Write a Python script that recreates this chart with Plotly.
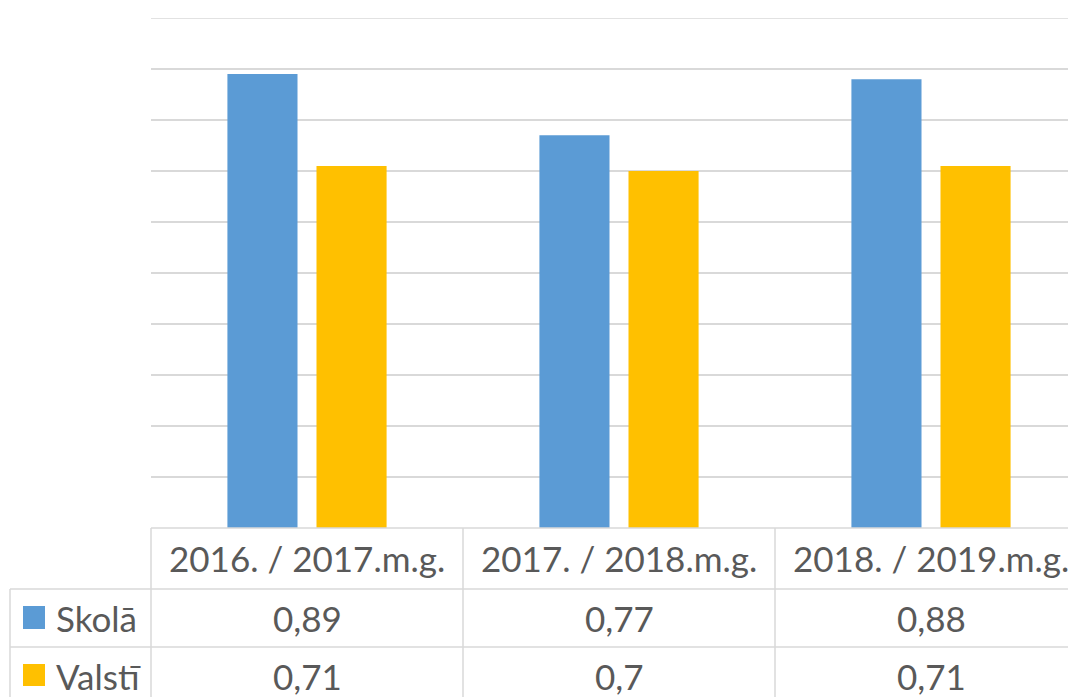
import plotly.graph_objects as go

categories = ["2016. / 2017.m.g.", "2017. / 2018.m.g.", "2018. / 2019.m.g."]
series_names = ["Skolā", "Valstī"]
skola = [0.89, 0.77, 0.88]
valsti = [0.71, 0.70, 0.71]
colors = ["#5B9BD5", "#FFC000"]

OFF = 8  # page body margin
W, H = 1076, 697 - OFF
L, R, T = 151 - OFF, 0, 18 - OFF
B = H - (528 - OFF)
plot_w = W - L - R
plot_h = H - T - B
cat_px = 312.0
xr = [-0.5, -0.5 + plot_w / cat_px]

def xp(v):
    return (v - xr[0]) / (xr[1] - xr[0])

def px_x(p):
    return (p - OFF - L) / plot_w

def px_y(p):
    return (H - B - (p - OFF)) / plot_h

def fmt(v):
    s = ("%.2f" % v).rstrip("0").rstrip(".")
    return s.replace(".", ",")

fig = go.Figure()
for name, vals, c in zip(series_names, [skola, valsti], colors):
    fig.add_trace(go.Bar(x=list(range(len(categories))), y=vals, name=name,
                         marker=dict(color=c, line=dict(width=0))))

line_c = "#D9D9D9"
lw = 1.5
shapes = []
shapes.append(dict(type="line", xref="paper", yref="y", x0=0, x1=1, y0=1, y1=1,
                   line=dict(color=line_c, width=lw), layer="below"))
shapes.append(dict(type="line", xref="paper", yref="paper", x0=0, x1=1, y0=px_y(528), y1=px_y(528),
                   line=dict(color=line_c, width=lw)))
for yy in [589, 647]:
    shapes.append(dict(type="line", xref="paper", yref="paper", x0=px_x(10), x1=1, y0=px_y(yy), y1=px_y(yy),
                       line=dict(color=line_c, width=lw)))
for i in range(len(categories)):
    xb = xp(i - 0.5)
    shapes.append(dict(type="line", xref="paper", yref="paper", x0=xb, x1=xb, y0=px_y(528), y1=px_y(710),
                       line=dict(color=line_c, width=lw)))
shapes.append(dict(type="line", xref="paper", yref="paper", x0=px_x(10), x1=px_x(10), y0=px_y(589), y1=px_y(710),
                   line=dict(color=line_c, width=lw)))
for (y0, y1), c in zip([(606, 629), (664, 686)], colors):
    shapes.append(dict(type="rect", xref="paper", yref="paper", x0=px_x(23), x1=px_x(45),
                       y0=px_y(y1), y1=px_y(y0), fillcolor=c, line=dict(width=0)))

font = dict(family="Lato, Open Sans, sans-serif", size=35, color="#595959")
ann = []
for i, cat in enumerate(categories):
    ann.append(dict(x=xp(i), y=px_y(558), xref="paper", yref="paper", text=cat, showarrow=False,
                    xanchor="center", yanchor="middle", font=font))
    ann.append(dict(x=xp(i), y=px_y(618), xref="paper", yref="paper", text=fmt(skola[i]), showarrow=False,
                    xanchor="center", yanchor="middle", font=font))
    ann.append(dict(x=xp(i), y=px_y(676), xref="paper", yref="paper", text=fmt(valsti[i]), showarrow=False,
                    xanchor="center", yanchor="middle", font=font))
for name, yc in zip(series_names, [618, 676]):
    ann.append(dict(x=px_x(54), y=px_y(yc), xref="paper", yref="paper", text=name, showarrow=False,
                    xanchor="left", yanchor="middle", font=font))

fig.update_layout(
    width=W, height=H,
    margin=dict(l=L, r=R, t=T, b=B, pad=0),
    paper_bgcolor="white", plot_bgcolor="white",
    barmode="group", bargap=0.429, bargroupgap=0.213,
    showlegend=False,
    shapes=shapes, annotations=ann,
    xaxis=dict(range=xr, showticklabels=False, showgrid=False, zeroline=False, ticks=""),
    yaxis=dict(range=[0, 1], dtick=0.1, showticklabels=False, showgrid=True,
               gridcolor=line_c, gridwidth=lw, zeroline=False, ticks=""),
)

fig.write_html("out.html")
